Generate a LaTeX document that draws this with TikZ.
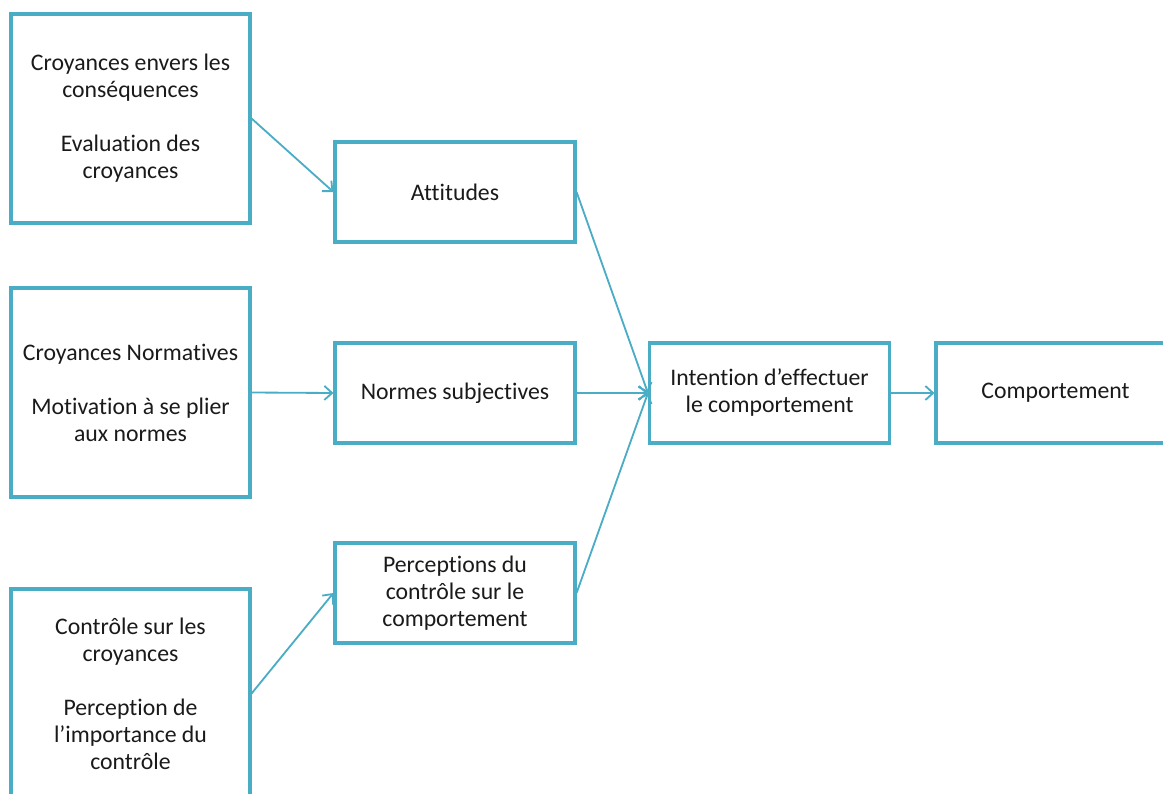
\documentclass[tikz,border=0pt]{standalone}
\usepackage{fontspec}
\setmainfont{Carlito}[Ligatures=NoCommon]
\usetikzlibrary{arrows.meta}
\definecolor{boxblue}{HTML}{4BACC6}
\definecolor{txtgray}{HTML}{1A1A1A}
\begin{document}
\begin{tikzpicture}[x=0.025cm,y=-0.025cm,>={Straight Barb[length=5.5pt,width=10pt]},
  box/.style={draw=boxblue,line width=2.2pt,align=center,inner sep=0pt,
    text=txtgray,font=\fontsize{16.9}{19.2}\selectfont},
  bigbox/.style={box,minimum width=5.975cm,minimum height=5.225cm},
  smallbox/.style={box,minimum width=6cm,minimum height=2.5cm},
  link/.style={->,draw=boxblue,line width=1.3pt}]
\useasboundingbox (0,0) rectangle (1163,794);
\node[bigbox] (cons) at (130.5,118.5) {Croyances envers les\\conséquences\\[19.2pt]Evaluation des\\croyances};
\node[bigbox] (norm) at (130.5,392.5) {Croyances Normatives\\[19.2pt]Motivation à se plier\\aux normes};
\node[bigbox] (ctrl) at (130.5,693.5) {Contrôle sur les\\croyances\\[19.2pt]Perception de\\l’importance du\\contrôle};
\node[smallbox] (att) at (455,192) {Attitudes};
\node[smallbox] (subj) at (455,393) {Normes subjectives};
\node[smallbox] (perc) at (455,593) {Perceptions du\\contrôle sur le\\comportement};
\node[smallbox] (intent) at (769.5,393) {Intention d’effectuer\\le comportement};
\node[smallbox,minimum width=5.975cm] (comp) at (1055.5,393) {Comportement};
\draw[link] (cons.east) -- (att.west);
\draw[link] (norm.east) -- (subj.west);
\draw[link] (ctrl.east) -- (perc.west);
\draw[link] (att.east) -- (intent.west);
\draw[link] (subj.east) -- (intent.west);
\draw[link] (perc.east) -- (intent.west);
\draw[link] (intent.east) -- (comp.west);
\end{tikzpicture}
\end{document}
